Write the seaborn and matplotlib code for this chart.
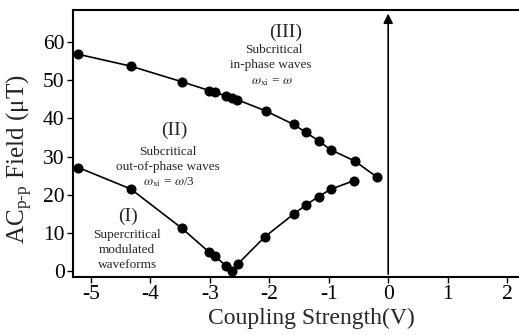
import matplotlib
matplotlib.use("Agg")
import matplotlib.pyplot as plt
import seaborn as sns
import pandas as pd

# coupling strength (V) for both branches
x_upper = [-5.21, -4.33, -3.47, -3.01, -2.91, -2.73, -2.63, -2.54, -2.05, -1.59, -1.39, -1.17, -0.97, -0.56, -0.18]
y_upper = [56.8, 53.7, 49.6, 47.3, 46.9, 45.8, 45.3, 44.9, 41.9, 38.4, 36.4, 34.1, 31.8, 28.8, 24.5]
x_lower = [-5.21, -4.33, -3.47, -3.01, -2.91, -2.73, -2.63, -2.53, -2.07, -1.59, -1.39, -1.17, -0.97, -0.57]
y_lower = [27.1, 21.5, 11.2, 4.9, 3.8, 1.4, 0.1, 1.8, 9.0, 14.9, 17.2, 19.5, 21.4, 23.7]
x_ticks = [-5, -4, -3, -2, -1, 0, 1, 2]
y_ticks = [0, 10, 20, 30, 40, 50, 60]

sns.set_style("ticks")
plt.rcParams['font.family'] = ['Liberation Serif', 'DejaVu Serif']
plt.rcParams['mathtext.fontset'] = 'stix'

upper = pd.DataFrame({"x": x_upper, "y": y_upper})
lower = pd.DataFrame({"x": x_lower, "y": y_lower})

fig = plt.figure(figsize=(5.19, 3.35), dpi=100)
ax = fig.add_axes([0.1407, 0.173, 0.8593, 0.797])

for df in (upper, lower):
    sns.lineplot(data=df, x="x", y="y", ax=ax, color="black", marker="o",
                 markersize=6.5, markeredgecolor="black", linewidth=1.2, sort=False)

ax.set_xlim(-5.3, 2.2)
ax.set_ylim(-1.6, 68.4)
ax.set_xticks(x_ticks)
ax.set_yticks(y_ticks)
ax.set_xticklabels([str(t) for t in x_ticks])
ax.tick_params(direction="out", length=4, width=1, labelsize=15.5, pad=2, colors="black")
ax.spines["right"].set_visible(False)
for s in ("left", "bottom", "top"):
    ax.spines[s].set_linewidth(1.5)
    ax.spines[s].set_color("black")

ax.set_xlabel("Coupling Strength(V)", fontsize=17)
ax.xaxis.set_label_coords(0.534, -0.115)
ax.set_ylabel(r"AC$_{\mathregular{p\text{-}p}}$ Field ($\mathregular{\mu}$T)", fontsize=18)
ax.yaxis.set_label_coords(-0.088, 0.44)

# vertical arrow at zero coupling
ax.annotate("", xy=(0, 68.2), xytext=(0, -1.6),
            arrowprops=dict(arrowstyle="-|>", color="black", lw=1.2, mutation_scale=14))

big = 14
small = 9.5
ax.text(-1.73, 62.6, "(III)", ha="center", va="center", fontsize=big)
ax.text(-1.93, 57.9, "Subcritical", ha="center", va="center", fontsize=small)
ax.text(-1.97, 54.0, "in-phase waves", ha="center", va="center", fontsize=small)
ax.text(-1.95, 49.5, r"$\omega_{\mathregular{xi}}$ = $\omega$", ha="center", va="center", fontsize=small)

ax.text(-3.59, 36.9, "(II)", ha="center", va="center", fontsize=big)
ax.text(-3.70, 31.3, "Subcritical", ha="center", va="center", fontsize=small)
ax.text(-3.70, 27.3, "out-of-phase waves", ha="center", va="center", fontsize=small)
ax.text(-3.68, 23.2, r"$\omega_{\mathregular{xi}}$ = $\omega$/3", ha="center", va="center", fontsize=small)

ax.text(-4.37, 14.4, "(I)", ha="center", va="center", fontsize=big)
ax.text(-4.39, 9.4, "Supercritical", ha="center", va="center", fontsize=small)
ax.text(-4.39, 5.5, "modulated", ha="center", va="center", fontsize=small)
ax.text(-4.39, 1.6, "waveforms", ha="center", va="center", fontsize=small)

fig.savefig("out.png", dpi=100)
